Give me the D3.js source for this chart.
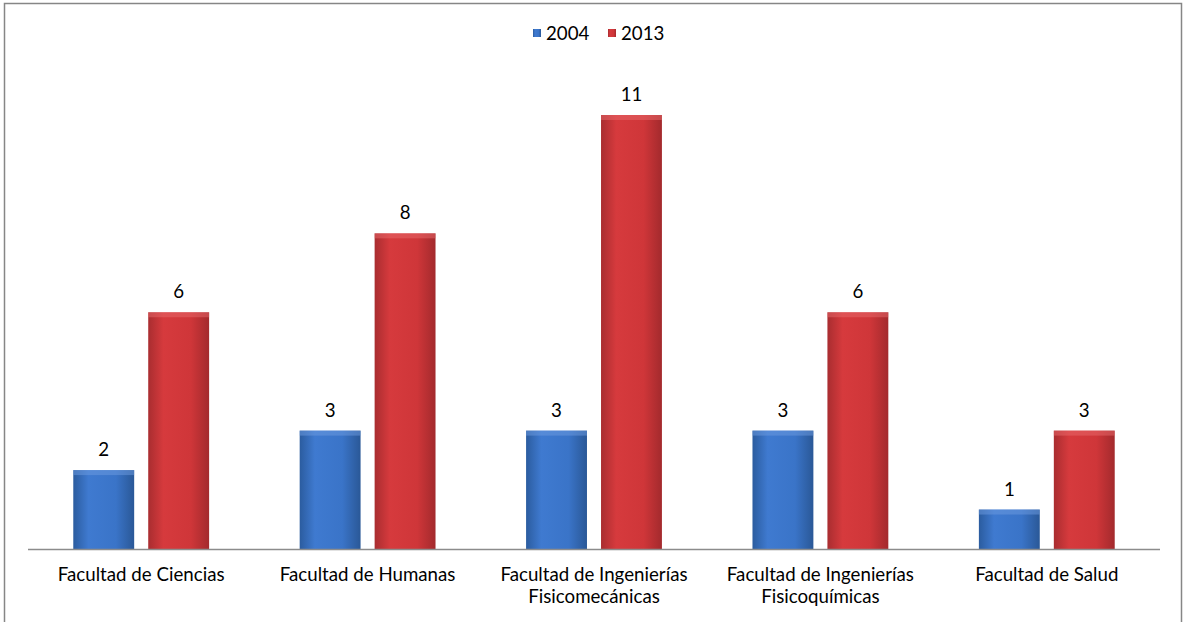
<!DOCTYPE html>
<html>
<head>
<meta charset="utf-8">
<script src="https://cdnjs.cloudflare.com/ajax/libs/d3/7.8.5/d3.min.js"></script>
<style>
  body { margin: 0; background: #fff; }
  text { font-family: Lato, "Open Sans", sans-serif; fill: #000; }
</style>
</head>
<body>
<div id="chart"></div>
<script>
// chart size
const width = 1183;
const height = 622;
const margin = {left: 28, right: 23, top: 60, bottom: 73};

// data
const categories = [
  ["Facultad de Ciencias"],
  ["Facultad de Humanas"],
  ["Facultad de Ingenierías", "Fisicomecánicas"],
  ["Facultad de Ingenierías", "Fisicoquímicas"],
  ["Facultad de Salud"]
];
const seriesNames = ["2004", "2013"];
const values2004 = [2, 3, 3, 3, 1];
const values2013 = [6, 8, 11, 6, 3];

const series = [
  {name: seriesNames[0], values: values2004, id: "blue"},
  {name: seriesNames[1], values: values2013, id: "red"}
];

const fontSize = "18.7px";

const svg = d3.select("#chart")
  .append("svg")
  .attr("width", width)
  .attr("height", height);

// gradients for the glossy bars
const defs = svg.append("defs");
const grad = {
  blue: ["#2b5c9f", "#3f7ad0", "#3a74c8", "#2a5897"],
  red:  ["#a92d30", "#d63a3d", "#cf3639", "#a32a2d"]
};
Object.keys(grad).forEach(k => {
  const g = defs.append("linearGradient")
    .attr("id", "g-" + k)
    .attr("x1", "0%").attr("x2", "100%").attr("y1", "0%").attr("y2", "0%");
  g.append("stop").attr("offset", "0%").attr("stop-color", grad[k][0]);
  g.append("stop").attr("offset", "25%").attr("stop-color", grad[k][1]);
  g.append("stop").attr("offset", "70%").attr("stop-color", grad[k][2]);
  g.append("stop").attr("offset", "100%").attr("stop-color", grad[k][3]);
});

// outer frame
svg.append("rect")
  .attr("x", 4.5).attr("y", 3.5)
  .attr("width", 1177).attr("height", 640)
  .attr("fill", "none")
  .attr("stroke", "#868686")
  .attr("stroke-width", 1.5);

// scales
const x0 = d3.scaleBand()
  .domain(d3.range(categories.length))
  .range([margin.left, width - margin.right]);

const x1 = d3.scaleBand()
  .domain(seriesNames)
  .range([x0.bandwidth() * 0.2, x0.bandwidth() * 0.8])
  .paddingInner(0.1875);

const y = d3.scaleLinear()
  .domain([0, 11])
  .range([height - margin.bottom, 115]);

// bars
const groups = svg.selectAll(".grp")
  .data(categories)
  .enter()
  .append("g")
  .attr("class", "grp")
  .attr("transform", (d, i) => `translate(${x0(i)},0)`);

series.forEach(s => {
  const bars = groups.append("g");
  bars.append("rect")
    .attr("x", x1(s.name))
    .attr("y", (d, i) => y(s.values[i]))
    .attr("width", x1.bandwidth())
    .attr("height", (d, i) => y(0) - y(s.values[i]))
    .attr("fill", `url(#g-${s.id})`);
  // lighter top strip
  bars.append("rect")
    .attr("x", x1(s.name))
    .attr("y", (d, i) => y(s.values[i]))
    .attr("width", x1.bandwidth())
    .attr("height", 5)
    .attr("fill", s.id === "blue" ? "#6d9be0" : "#e86a6c")
    .attr("opacity", 0.5);
  bars.append("text")
    .attr("x", x1(s.name) + x1.bandwidth() / 2)
    .attr("y", (d, i) => y(s.values[i]) - 14)
    .attr("text-anchor", "middle")
    .attr("font-size", fontSize)
    .text((d, i) => s.values[i]);
});

// x axis line
svg.append("line")
  .attr("x1", margin.left).attr("x2", width - margin.right)
  .attr("y1", y(0) + 0.5).attr("y2", y(0) + 0.5)
  .attr("stroke", "#8c8c8c")
  .attr("stroke-width", 1.5);

// category labels
groups.append("text")
  .attr("text-anchor", "middle")
  .attr("font-size", fontSize)
  .selectAll("tspan")
  .data(d => d)
  .enter()
  .append("tspan")
  .attr("x", x0.bandwidth() / 2)
  .attr("y", (d, i) => 581 + i * 21.5)
  .text(d => d);

// legend
const legend = svg.append("g");
const legendX = [533, 608];
series.forEach((s, i) => {
  legend.append("rect")
    .attr("x", legendX[i]).attr("y", 29)
    .attr("width", 8).attr("height", 8)
    .attr("fill", `url(#g-${s.id})`);
  legend.append("text")
    .attr("x", legendX[i] + 13).attr("y", 40)
    .attr("font-size", fontSize)
    .text(s.name);
});
</script>
</body>
</html>
